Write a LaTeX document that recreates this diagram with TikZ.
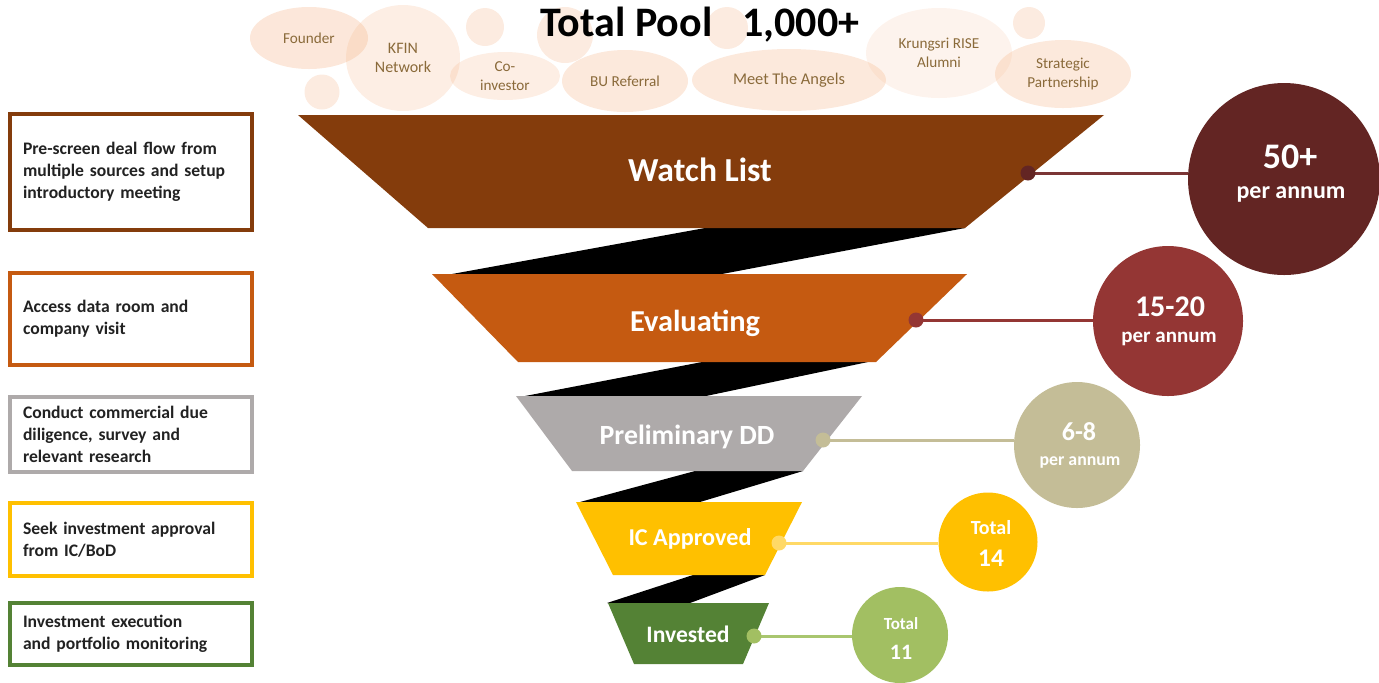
\documentclass[tikz,border=0pt]{standalone}
\usepackage{fontspec}
\setmainfont{Carlito}
\usetikzlibrary{shapes.geometric,calc}
\definecolor{cWatch}{HTML}{843C0C}
\definecolor{cEval}{HTML}{C55A11}
\definecolor{cPre}{HTML}{AEAAAA}
\definecolor{cIC}{HTML}{FFC000}
\definecolor{cInv}{HTML}{548235}
\definecolor{kOne}{HTML}{632523}
\definecolor{kTwo}{HTML}{943634}
\definecolor{kThree}{HTML}{C4BD97}
\definecolor{kFour}{HTML}{FFC000}
\definecolor{kFive}{HTML}{A2BF62}
\definecolor{lOne}{HTML}{7B3535}
\definecolor{lFour}{HTML}{FFD966}
\definecolor{lFive}{HTML}{A9C66F}
\definecolor{bub}{HTML}{F4B183}
\definecolor{bubtext}{HTML}{8A6A3A}
\definecolor{boxtext}{HTML}{222222}
\pgfdeclarelayer{linklayer}
\pgfsetlayers{linklayer,main}
\begin{document}
\begin{tikzpicture}[x=0.5pt,y=-0.5pt,
  bubble/.style={ellipse,fill=bub,draw=none,inner sep=0pt,align=center,text=bubtext,
     font=\fontsize{7.6}{9.5}\selectfont},
  dotbub/.style={circle,fill=bub,fill opacity=0.25,draw=none,inner sep=0pt},
  stagebox/.style={rectangle,line width=1.6pt,fill=white,text width=108pt,inner xsep=6.5pt,
     inner ysep=2pt,minimum width=121pt,align=left,text=boxtext,
     font=\bfseries\fontsize{8.8}{11}\selectfont},
  band/.style={fill=black},
  stagetxt/.style={text=white,font=\bfseries},
  stat/.style={circle,inner sep=0pt,draw=none},
  stattxt/.style={text=white,font=\bfseries,inner sep=0pt},
  dotc/.style={circle,inner sep=0pt,minimum size=7.5pt,draw=none},
  link/.style={line width=1.5pt}
]
\useasboundingbox (0,0) rectangle (1379,682);

% ---- source bubbles
\node[dotbub,minimum size=17.5pt] (s1) at (322,92) {};
\node[dotbub,minimum size=19pt] (s2) at (485,27) {};
\node[dotbub,minimum size=28pt] (s3) at (565,35) {};
\node[dotbub,minimum size=21pt] (s4) at (727,28) {};
\node[dotbub,minimum size=16pt] (s5) at (1029,23) {};
\node[bubble,fill opacity=0.3,text opacity=1,minimum width=59pt,minimum height=31pt] (founder) at (309,38) {Founder};
\node[bubble,fill opacity=0.22,text opacity=1,minimum width=57pt,minimum height=53pt,font=\fontsize{8}{9.5}\selectfont] (kfin) at (403,58) {KFIN\\Network};
\node[bubble,fill opacity=0.22,text opacity=1,minimum width=55pt,minimum height=24pt] (coinv) at (505,76) {Co-\\investor};
\node[bubble,fill opacity=0.28,text opacity=1,minimum width=63pt,minimum height=31pt] (bu) at (625,81) {BU Referral};
\node[bubble,fill opacity=0.28,text opacity=1,minimum width=97pt,minimum height=31pt,font=\fontsize{8.2}{10}\selectfont] (meet) at (789,80) {Meet The Angels};
\node[bubble,fill opacity=0.15,text opacity=1,minimum width=73pt,minimum height=45pt] (krung) at (939,53) {Krungsri RISE\\Alumni};
\node[bubble,fill opacity=0.28,text opacity=1,minimum width=68pt,minimum height=34pt] (strat) at (1063,74) {Strategic\\Partnership};

\node[font=\bfseries\fontsize{21}{24}\selectfont,inner sep=0pt] (title) at (700,25) {Total Pool\hspace{15pt}1,000+};

% ---- black connecting bands
\fill[band] (705,228) -- (965,228) -- (722,274) -- (452,274) -- cycle;
\fill[band] (702,362) -- (868,362) -- (706,396) -- (525,396) -- cycle;
\fill[band] (695,471) -- (803,471) -- (700,502) -- (580,502) -- cycle;
\fill[band] (693,575) -- (765,575) -- (690,603) -- (607,603) -- cycle;

% ---- funnel stages
\fill[cWatch] (298,115) -- (1104,115) -- (965,228) -- (428,228) -- cycle;
\fill[cEval] (432,274) -- (967,274) -- (876,362) -- (518,362) -- cycle;
\fill[cPre] (516,396) -- (862,396) -- (803,471) -- (572,471) -- cycle;
\fill[cIC] (576,502) -- (802,502) -- (765,575) -- (613,575) -- cycle;
\fill[cInv] (608,603) -- (769,603) -- (743,664) -- (634,664) -- cycle;

\node[stagetxt,font=\bfseries\fontsize{16.8}{20}\selectfont] (watch) at (700,170) {Watch List};
\node[stagetxt,font=\bfseries\fontsize{15.2}{18}\selectfont] (eval) at (695,323) {Evaluating};
\node[stagetxt,font=\bfseries\fontsize{13.9}{16}\selectfont] (pre) at (687,437) {Preliminary DD};
\node[stagetxt,font=\bfseries\fontsize{12.1}{14}\selectfont] (ic) at (690,539) {IC Approved};
\node[stagetxt,font=\bfseries\fontsize{11.8}{14}\selectfont] (inv) at (688,634) {Invested};

% ---- left description boxes
\node[stagebox,draw=cWatch,minimum height=58pt] (b1) at (131,172) {Pre-screen deal flow from\\multiple sources and setup\\introductory meeting};
\node[stagebox,draw=cEval,minimum height=46pt] (b2) at (131,319) {Access data room and\\company visit};
\node[stagebox,draw=cPre,minimum height=37.5pt] (b3) at (131,434.5) {Conduct commercial due\\diligence, survey and\\relevant research};
\node[stagebox,draw=cIC,minimum height=36.5pt] (b4) at (131,539.5) {Seek investment approval\\from IC/BoD};
\node[stagebox,draw=cInv,minimum height=31pt] (b5) at (131,634) {Investment execution\\and portfolio monitoring};

% ---- statistic circles
\node[stat,fill=kOne,minimum size=96pt] (c1) at (1284,179) {};
\node[stat,fill=kTwo,minimum size=75pt] (c2) at (1168,321) {};
\node[stat,fill=kThree,minimum size=63pt] (c3) at (1077,445) {};
\node[stat,fill=kFour,minimum size=49.5pt] (c4) at (988,542) {};
\node[stat,fill=kFive,minimum size=48pt] (c5) at (900,635) {};

% ---- dots and links
\node[dotc,fill=kOne] (d1) at (1028,173) {};
\node[dotc,fill=kTwo] (d2) at (916,320) {};
\node[dotc,fill=kThree] (d3) at (823,440) {};
\node[dotc,fill=lFour] (d4) at (779,543) {};
\node[dotc,fill=kFive] (d5) at (754,636) {};
\begin{pgfonlayer}{linklayer}
\draw[link,lOne] (d1.center) -- (d1 -| c1.west);
\draw[link,kTwo] (d2.center) -- (d2 -| c2.west);
\draw[link,kThree] (d3.center) -- (d3 -| c3.west);
\draw[link,lFour] (d4.center) -- (d4 -| c4.west);
\draw[link,lFive] (d5.center) -- (d5 -| c5.west);
\end{pgfonlayer}

\node[stattxt,font=\bfseries\fontsize{18}{20}\selectfont] (t1a) at (1290,157) {50+};
\node[stattxt,font=\bfseries\fontsize{12}{14}\selectfont] (t1b) at (1291,194) {per annum};
\node[stattxt,font=\bfseries\fontsize{15}{18}\selectfont] (t2a) at (1170,307) {15-20};
\node[stattxt,font=\bfseries\fontsize{10.5}{12}\selectfont] (t2b) at (1169,339) {per annum};
\node[stattxt,font=\bfseries\fontsize{13}{15}\selectfont] (t3a) at (1079,432) {6-8};
\node[stattxt,font=\bfseries\fontsize{8.9}{10}\selectfont] (t3b) at (1080,462) {per annum};
\node[stattxt,font=\bfseries\fontsize{10}{12}\selectfont] (t4a) at (991,528) {Total};
\node[stattxt,font=\bfseries\fontsize{12.7}{15}\selectfont] (t4b) at (991,558) {14};
\node[stattxt,font=\bfseries\fontsize{8.5}{10}\selectfont] (t5a) at (901,624) {Total};
\node[stattxt,font=\bfseries\fontsize{11}{13}\selectfont] (t5b) at (901,652) {11};
\end{tikzpicture}
\end{document}
